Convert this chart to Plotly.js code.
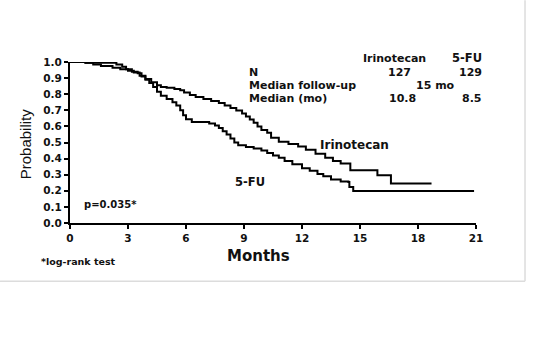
<!DOCTYPE html>
<html>
<head>
<meta charset="utf-8">
<script src="https://cdn.plot.ly/plotly-3.0.1.min.js"></script>
<style>html,body{margin:0;padding:0;background:#fff;}#chart{width:539px;height:358px;}</style>
</head>
<body>
<div id="chart"></div>
<script>
// Kaplan-Meier step points (months, survival probability)
const irinoMonths = [0,0.8,1.2,1.6,2.2,2.6,3.0,3.3,3.6,3.9,4.2,4.5,4.7,5.0,5.4,5.7,5.9,6.2,6.5,6.9,7.3,7.7,8.0,8.3,8.6,8.9,9.1,9.3,9.5,9.7,9.9,10.2,10.4,10.8,11.3,11.8,12.2,12.7,13.2,13.6,14.0,14.5,15.9,16.6,18.7];
const irinoSurv   = [1.0,0.995,0.985,0.975,0.965,0.955,0.945,0.935,0.915,0.895,0.875,0.855,0.845,0.84,0.833,0.825,0.81,0.795,0.783,0.77,0.757,0.745,0.73,0.715,0.698,0.68,0.662,0.643,0.622,0.6,0.578,0.56,0.53,0.505,0.49,0.475,0.455,0.43,0.405,0.385,0.37,0.327,0.296,0.245,0.245];
const fuMonths = [0,0.8,2.4,2.7,2.9,3.2,3.5,3.7,3.9,4.1,4.3,4.5,4.7,5.0,5.3,5.5,5.7,5.85,6.0,6.3,7.2,7.5,7.7,7.9,8.1,8.3,8.5,8.7,9.1,9.5,9.9,10.2,10.5,10.8,11.1,11.5,12.0,12.4,12.8,13.1,13.5,14.0,14.4,14.45,14.65,20.9];
const fuSurv   = [1.0,0.995,0.985,0.97,0.955,0.94,0.93,0.91,0.89,0.87,0.845,0.815,0.79,0.77,0.75,0.73,0.70,0.67,0.645,0.628,0.618,0.605,0.59,0.57,0.55,0.525,0.5,0.483,0.472,0.462,0.45,0.435,0.42,0.405,0.385,0.365,0.34,0.325,0.305,0.29,0.27,0.258,0.255,0.224,0.199,0.199];

const xTicks = [0,3,6,9,12,15,18,21];
const yTicks = [0,0.1,0.2,0.3,0.4,0.5,0.6,0.7,0.8,0.9,1.0];
const yTickText = yTicks.map(v => v.toFixed(1));

const groups = ['Irinotecan','5-FU'];
const nValues = ['127','129'];
const medianValues = ['10.8','8.5'];
const followUp = '15 mo';

const F = 'DejaVu Sans, sans-serif';
const bold = (size) => ({family: F, size: size, color: '#111', weight: 'bold'});

const traces = [
  {x: irinoMonths, y: irinoSurv, mode: 'lines', line: {shape: 'hv', color: '#000', width: 2}, cliponaxis: false, hoverinfo: 'skip', name: groups[0]},
  {x: fuMonths, y: fuSurv, mode: 'lines', line: {shape: 'hv', color: '#000', width: 2}, cliponaxis: false, hoverinfo: 'skip', name: groups[1]}
];

// positions given in axis units (months, probability), converted to paper fractions
function ann(text, m, p, size, anchor, extra) {
  return Object.assign({text: text, x: m / 21, y: p, xref: 'paper', yref: 'paper', showarrow: false,
    xanchor: anchor || 'center', yanchor: 'middle', font: bold(size)}, extra || {});
}

const annotations = [
  ann(groups[0], 16.79, 1.023, 11),
  ann(groups[1], 20.54, 1.023, 11.5),
  ann('N', 9.16, 0.936, 11, 'left'),
  ann(nValues[0], 17.02, 0.936, 11),
  ann(nValues[1], 20.7, 0.936, 11),
  ann('Median follow-up', 9.16, 0.855, 11, 'left'),
  ann(followUp, 18.93, 0.855, 11),
  ann('Median (mo)', 9.16, 0.775, 11, 'left'),
  ann(medianValues[0], 17.18, 0.775, 11),
  ann(medianValues[1], 20.8, 0.775, 11),
  ann(groups[0], 14.74, 0.483, 12),
  ann(groups[1], 9.31, 0.253, 11.5),
  ann('p=0.035*', 2.12, 0.116, 10),
  ann('*log-rank test', 0.44, -0.238, 9.5),
  ann('Months', 9.73, -0.207, 15),
  ann('Probability', -2.33, 0.495, 15, 'center', {textangle: -90, font: {family: 'Liberation Sans, Arial, sans-serif', size: 15, color: '#111'}})
];

const layout = {
  width: 539, height: 358,
  margin: {l: 70, r: 63, t: 62, b: 135},
  paper_bgcolor: '#fff', plot_bgcolor: '#fff',
  showlegend: false,
  xaxis: {range: [0, 21], tickvals: xTicks, ticktext: xTicks.map(String), showgrid: false, zeroline: false,
    showline: true, linecolor: '#000', linewidth: 2, ticks: 'outside', ticklen: 4, tickwidth: 2, tickcolor: '#000',
    tickfont: bold(10.5), fixedrange: true},
  yaxis: {range: [0, 1], tickvals: yTicks, ticktext: yTickText, showgrid: false, zeroline: false,
    showline: true, linecolor: '#000', linewidth: 2, ticks: 'outside', ticklen: 4, tickwidth: 2, tickcolor: '#000',
    tickfont: bold(10.5), fixedrange: true},
  annotations: annotations,
  shapes: [
    {type: 'line', xref: 'paper', yref: 'paper', x0: -0.1724, x1: 1.1207, y0: -0.362, y1: -0.362, line: {color: '#dcdcdc', width: 1.5}},
    {type: 'line', xref: 'paper', yref: 'paper', x0: 1.1207, x1: 1.1207, y0: -0.362, y1: 1.383, line: {color: '#dcdcdc', width: 1.5}}
  ]
};

Plotly.newPlot('chart', traces, layout, {displayModeBar: false, staticPlot: true});
</script>
</body>
</html>
